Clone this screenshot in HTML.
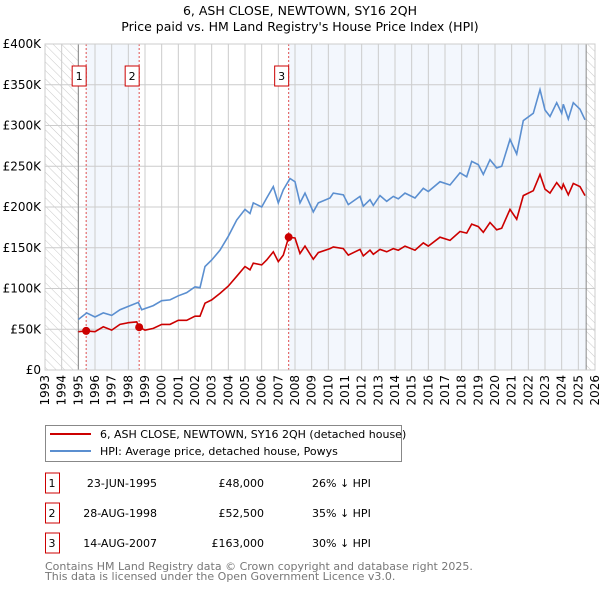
<!DOCTYPE html>
<html><head><meta charset="utf-8"><style>
body{margin:0;background:#fff;font-family:"DejaVu Sans","Liberation Sans",sans-serif;}
svg{display:block}
</style></head><body>
<svg id="c" width="600" height="590" xmlns="http://www.w3.org/2000/svg" font-family="DejaVu Sans, Liberation Sans, sans-serif">
<defs><pattern id="hatch" width="6" height="6" patternUnits="userSpaceOnUse" patternTransform="rotate(-45)"><line x1="0" y1="0" x2="0" y2="6" stroke="#bbb" stroke-width="0.8"/></pattern></defs>
<text x="300" y="15" text-anchor="middle" font-size="12.5">6, ASH CLOSE, NEWTOWN, SY16 2QH</text>
<text x="300" y="31" text-anchor="middle" font-size="12.5">Price paid vs. HM Land Registry's House Price Index (HPI)</text>
<g id="plot"></g>
<g>
<rect x="45.5" y="425.5" width="356" height="36" fill="#fff" stroke="#888"/>
<line x1="50" y1="434" x2="91" y2="434" stroke="#cc0000" stroke-width="2"/>
<text x="100" y="438" font-size="11">6, ASH CLOSE, NEWTOWN, SY16 2QH (detached house)</text>
<line x1="50" y1="451" x2="91" y2="451" stroke="#5b8fd0" stroke-width="2"/>
<text x="100" y="455" font-size="11">HPI: Average price, detached house, Powys</text>
</g>
<g id="table" font-size="11"></g>
<text x="45" y="570" font-size="11" fill="#777">Contains HM Land Registry data © Crown copyright and database right 2025.</text>
<text x="45" y="580" font-size="11" fill="#777">This data is licensed under the Open Government Licence v3.0.</text>
</svg>
<script>
const hpiYears=[1995.0,1995.5,1996,1996.5,1997,1997.5,1998,1998.6,1998.8,1999.5,2000,2000.5,2001,2001.5,2002,2002.3,2002.6,2003,2003.5,2004,2004.5,2005,2005.3,2005.5,2006,2006.3,2006.7,2007,2007.3,2007.7,2008,2008.3,2008.6,2009.1,2009.4,2010.1,2010.3,2010.9,2011.2,2011.9,2012.1,2012.5,2012.7,2013.1,2013.5,2013.9,2014.2,2014.6,2015.2,2015.7,2016,2016.7,2017.3,2017.9,2018.3,2018.6,2019,2019.3,2019.7,2020.1,2020.4,2020.9,2021.3,2021.7,2022.3,2022.7,2023,2023.3,2023.7,2024,2024.1,2024.4,2024.7,2025.1,2025.4];
const hpiValues=[62,70,65,70,67,74,78,83,74,79,85,86,91,95,102,101,127,135,147,164,184,197,192,205,200,211,225,205,221,235,231,205,217,194,205,211,217,215,203,213,201,209,202,214,207,213,210,217,211,223,219,231,227,242,237,256,252,240,258,248,250,283,265,306,315,344,319,311,328,315,326,308,328,320,307];
const priceYears=[1995.0,1995.47,1996,1996.5,1997,1997.5,1998,1998.5,1998.65,1999,1999.5,2000,2000.5,2001,2001.5,2002,2002.3,2002.6,2003,2003.5,2004,2004.5,2005,2005.3,2005.5,2006,2006.3,2006.7,2007,2007.3,2007.62,2008,2008.3,2008.6,2009.1,2009.4,2010.1,2010.3,2010.9,2011.2,2011.9,2012.1,2012.5,2012.7,2013.1,2013.5,2013.9,2014.2,2014.6,2015.2,2015.7,2016,2016.7,2017.3,2017.9,2018.3,2018.6,2019,2019.3,2019.7,2020.1,2020.4,2020.9,2021.3,2021.7,2022.3,2022.7,2023,2023.3,2023.7,2024,2024.1,2024.4,2024.7,2025.1,2025.4];
const priceValues=[47,48,47,53,49,56,58,59,52.5,49,51,56,56,61,61,66,66,82,86,94,103,115,127,123,131,129,135,145,133,141,163,162,143,152,136,144,149,151,149,141,148,140,147,142,148,145,149,147,152,147,156,152,163,159,170,168,179,176,169,181,172,174,197,185,214,220,240,222,217,230,222,228,215,229,225,214];
const saleYears=[1995.47,1998.65,2007.62];
const saleValues=[48,52.5,163];
const saleLabels=["1","2","3"];
const saleDates=["23-JUN-1995","28-AUG-1998","14-AUG-2007"];
const salePrices=["£48,000","£52,500","£163,000"];
const saleDiffs=["26% ↓ HPI","35% ↓ HPI","30% ↓ HPI"];
const yTicks=[0,50,100,150,200,250,300,350,400];
const yTickLabels=["£0","£50K","£100K","£150K","£200K","£250K","£300K","£350K","£400K"];
const xTicks=[1993,1994,1995,1996,1997,1998,1999,2000,2001,2002,2003,2004,2005,2006,2007,2008,2009,2010,2011,2012,2013,2014,2015,2016,2017,2018,2019,2020,2021,2022,2023,2024,2025,2026];

const X0=45,X1=595,Y0=370,Y1=44,xMin=1993,xMax=2026,yMax=400,dataStart=1995.0,dataEnd=2025.47;
const sx=v=>X0+(v-xMin)/(xMax-xMin)*(X1-X0);
const sy=v=>Y0-v/yMax*(Y0-Y1);
const NS="http://www.w3.org/2000/svg";
const plot=document.getElementById('plot');
function mk(tag,attrs,parent){const e=document.createElementNS(NS,tag);for(const k in attrs)e.setAttribute(k,attrs[k]);(parent||plot).appendChild(e);return e;}
let e;
e=mk('rect',{x:X0,y:Y1,width:X1-X0,height:Y0-Y1,fill:'#fff'});


e=mk('rect',{x:X0,y:Y1,width:sx(dataStart)-X0,height:Y0-Y1,fill:'url(#hatch)'});


e=mk('rect',{x:sx(dataEnd),y:Y1,width:X1-sx(dataEnd),height:Y0-Y1,fill:'url(#hatch)'});


e=mk('rect',{x:sx(saleYears[0]),y:Y1,width:sx(saleYears[1])-sx(saleYears[0]),height:Y0-Y1,fill:'#eef3fc',opacity:0.7});


e=mk('rect',{x:sx(saleYears[2]),y:Y1,width:sx(dataEnd)-sx(saleYears[2]),height:Y0-Y1,fill:'#eef3fc',opacity:0.7});


xTicks.forEach(t=>{const l=mk('line',{x1:sx(t),x2:sx(t),y1:Y1,y2:Y0,stroke:'#ccc','stroke-width':1});


const tx=mk('text',{x:0,y:0,'font-size':12,'text-anchor':'end',transform:`translate(${sx(t)+4},${Y0+5}) rotate(-90)`});tx.textContent=t;

});
yTicks.forEach((t,i)=>{const l=mk('line',{x1:X0,x2:X1,y1:sy(t),y2:sy(t),stroke:'#ccc','stroke-width':1});


const tx=mk('text',{x:X0-4,y:sy(t)+4,'font-size':12,'text-anchor':'end'});tx.textContent=yTickLabels[i];

});
e=mk('line',{x1:sx(dataStart),x2:sx(dataStart),y1:Y1,y2:Y0,stroke:'#888'});


e=mk('line',{x1:sx(dataEnd),x2:sx(dataEnd),y1:Y1,y2:Y0,stroke:'#888'});


saleYears.forEach((y,i)=>{const l=mk('line',{x1:sx(y),x2:sx(y),y1:Y1,y2:Y0,stroke:'#e05050','stroke-dasharray':'2,2'});


const b=mk('rect',{x:sx(y)-14,y:66,width:14,height:20,fill:'#fff',stroke:'#cc0000'});


const t=mk('text',{x:sx(y)-7,y:80,'font-size':11,'text-anchor':'middle'});t.textContent=saleLabels[i];

});
const path=(xs,vs)=>xs.map((x,i)=>(i?'L':'M')+sx(x).toFixed(1)+','+sy(vs[i]).toFixed(1)).join('');
e=mk('path',{d:path(hpiYears,hpiValues),fill:'none',stroke:'#5b8fd0','stroke-width':1.6});


e=mk('path',{d:path(priceYears,priceValues),fill:'none',stroke:'#cc0000','stroke-width':1.6});


saleYears.forEach((y,i)=>{const c=mk('circle',{cx:sx(y),cy:sy(saleValues[i]),r:4,fill:'#cc0000'});

});
e=mk('rect',{x:X0,y:Y1,width:X1-X0,height:Y0-Y1,fill:'none',stroke:'#ccc'});


const tb=document.getElementById('table');
saleLabels.forEach((s,i)=>{const cy=483+i*30;
const b=mk('rect',{x:45.5,y:cy-10,width:14,height:20,fill:'#fff',stroke:'#cc0000'},tb);


const cols=[[52,'middle',s],[157,'end',saleDates[i]],[264,'end',salePrices[i]],[312,'start',saleDiffs[i]]];
cols.forEach(c=>{const t=mk('text',{x:c[0],y:cy+4,'text-anchor':c[1]},tb);t.textContent=c[2];

});});
</script>
</body></html>
